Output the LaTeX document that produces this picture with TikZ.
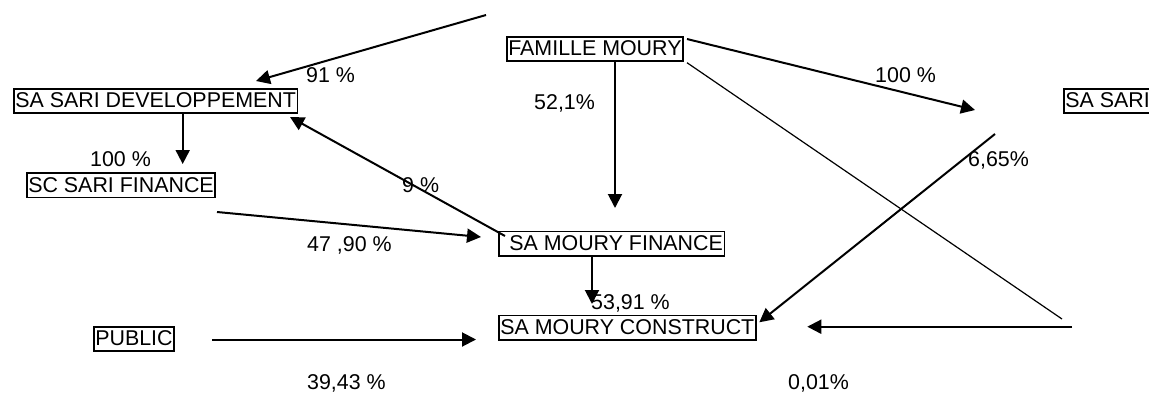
\documentclass[tikz,border=0pt]{standalone}
\usepackage{fontspec}
\setmainfont{Liberation Sans}
\usetikzlibrary{arrows.meta}
\tikzset{
  box/.style={draw, line width=1.6pt, anchor=west, inner xsep=1.5pt, inner ysep=0pt,
    text height=19pt, text depth=5.5pt, font=\fontsize{21.4}{25}\selectfont},
  lab/.style={inner sep=0pt, anchor=base west, font=\fontsize{21.4}{25}\selectfont},
  arr/.style={line width=2pt, -{Triangle[length=14pt,width=14pt]}},
  thinline/.style={line width=1.2pt}
}
\begin{document}
\begin{tikzpicture}[x=1pt,y=-1pt]
\useasboundingbox (0,0) rectangle (1149,394);
\fill[white] (0,0) rectangle (1149,394);
% boxes
\node[box] (fm) at (506,49) {FAMILLE MOURY};
\node[box] (sdev) at (13,101) {SA SARI DEVELOPPEMENT};
\node[box] (ssf) at (26,185.3) {SC SARI FINANCE};
\node[box] (ssari) at (1063,101) {SA SARI};
\node[box] (smf) at (498,243.8) {\hspace*{9pt}SA MOURY FINANCE};
\node[box] (smc) at (498,327.7) {SA MOURY CONSTRUCT};
\node[box] (pub) at (93,339) {PUBLIC};
% labels
\node[lab] (l91) at (306,82) {91 \%};
\node[lab] (l100a) at (90,166) {100 \%};
\node[lab] (l521) at (534,109) {52,1\%};
\node[lab] (l9) at (402,192) {9 \%};
\node[lab] (l100b) at (875,82) {100 \%};
\node[lab] (l665) at (968,166.7) {6,65\%};
\node[lab] (l4790) at (307,251.7) {47 ,90 \%};
\node[lab] (l3943) at (307,389.5) {39,43 \%};
\node[lab] (l5391) at (591,309) {53,91 \%};
\node[lab] (l001) at (788,389.5) {0,01\%};
% coordinates
\coordinate (top) at (486,15);
\coordinate (tA) at (256,81);
\coordinate (tB) at (182.7,164);
\coordinate (sC) at (505,236);
\coordinate (tC) at (290,117);
\coordinate (tD) at (615,208);
\coordinate (sE) at (217,212);
\coordinate (tE) at (481,237);
\coordinate (tF) at (592,304);
\coordinate (sG) at (212,339.5);
\coordinate (tG) at (476,339.5);
\coordinate (sH) at (687,39);
\coordinate (tH) at (975,110);
\coordinate (sI) at (687,62.7);
\coordinate (eI) at (1062,319);
\coordinate (sJ) at (995,134);
\coordinate (tJ) at (759.3,322.3);
\coordinate (sK) at (1072,326.7);
\coordinate (tK) at (807.3,326.7);
% connectors
\draw[arr] (top) -- (tA);
\draw[arr] (sdev.south -| tB) -- (tB);
\draw[arr] (sC) -- (tC);
\draw[arr] (fm.south -| tD) -- (tD);
\draw[arr] (sE) -- (tE);
\draw[arr] (smf.south -| tF) -- (tF);
\draw[arr] (sG) -- (tG);
\draw[arr] (sH) -- (tH);
\draw[thinline] (sI) -- (eI);
\draw[arr] (sJ) -- (tJ);
\draw[arr] (sK) -- (tK);
\end{tikzpicture}
\end{document}
